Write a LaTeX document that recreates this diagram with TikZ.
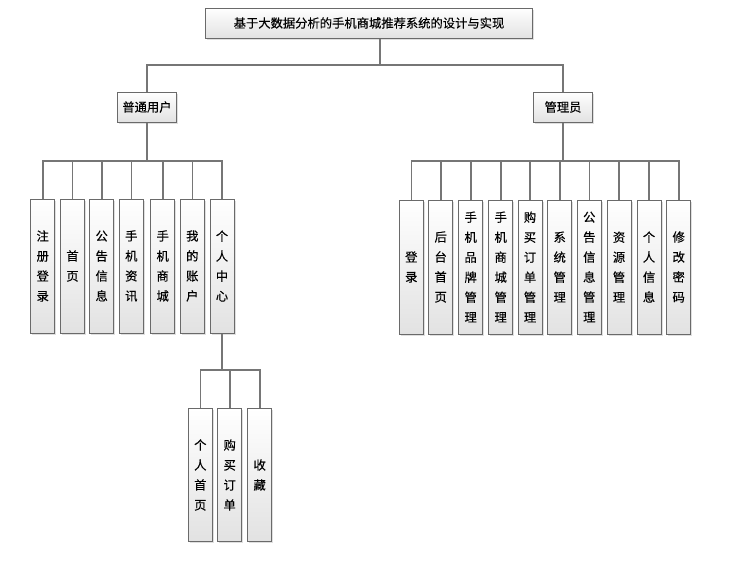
\documentclass[tikz,border=0pt]{standalone}
\usepackage{fontspec}
\newfontfamily\cjk[FakeBold=0.3]{Noto Sans CJK SC}
\usetikzlibrary{shadows}
\definecolor{boxline}{HTML}{6A6A6A}
\definecolor{linkline}{HTML}{767676}
\definecolor{boxbottom}{HTML}{E2E2E2}
\tikzset{
  box/.style={draw=boxline, line width=1pt, top color=white, bottom color=boxbottom,
    drop shadow={shadow xshift=1.5pt, shadow yshift=-1.5pt, opacity=0.25},
    inner sep=0pt, font=\cjk\fontsize{12.3}{20}\selectfont},
  vbox/.style={box, minimum width=24pt, minimum height=134pt, align=center},
  link/.style={draw=linkline, line width=1.6pt}
}
\begin{document}
\begin{tikzpicture}[x=1pt, y=-1pt]
  \useasboundingbox (0,0) rectangle (747,570);
  % bus points of the tree
  \coordinate (rb) at (380,65);
  \coordinate (ub) at (147,161);
  \coordinate (ab) at (563,161);
  \coordinate (pb) at (222,370);

  % title and the two roles
  \node[box, minimum width=327pt, minimum height=30pt] (root) at (369,23) {基于大数据分析的手机商城推荐系统的设计与实现};
  \node[box, minimum width=59pt, minimum height=30pt] (user) at (147,107) {普通用户};
  \node[box, minimum width=59pt, minimum height=30pt] (admin) at (563,107) {管理员};

  % user functions
  \node[vbox] (u1) at (42.7,266) {注\\册\\登\\录};
  \node[vbox] (u2) at (72.5,266) {首\\页};
  \node[vbox] (u3) at (101.7,266) {公\\告\\信\\息};
  \node[vbox] (u4) at (131.3,266) {手\\机\\资\\讯};
  \node[vbox] (u5) at (162.7,266) {手\\机\\商\\城};
  \node[vbox] (u6) at (192.3,266) {我\\的\\账\\户};
  \node[vbox] (u7) at (222,266) {个\\人\\中\\心};

  % personal center
  \node[vbox, minimum height=133pt] (p1) at (200.3,475) {个\\人\\首\\页};
  \node[vbox, minimum height=133pt] (p2) at (229.7,475) {购\\买\\订\\单};
  \node[vbox, minimum height=133pt] (p3) at (259.7,475) {收\\藏};

  % admin functions
  \node[vbox] (a1) at (411.3,267) {登\\录};
  \node[vbox] (a2) at (440.7,267) {后\\台\\首\\页};
  \node[vbox] (a3) at (470.7,267) {手\\机\\品\\牌\\管\\理};
  \node[vbox] (a4) at (500.7,267) {手\\机\\商\\城\\管\\理};
  \node[vbox] (a5) at (530,267) {购\\买\\订\\单\\管\\理};
  \node[vbox] (a6) at (559.7,267) {系\\统\\管\\理};
  \node[vbox] (a7) at (589.3,267) {公\\告\\信\\息\\管\\理};
  \node[vbox] (a8) at (619,267) {资\\源\\管\\理};
  \node[vbox] (a9) at (649,267) {个\\人\\信\\息};
  \node[vbox] (a10) at (678.7,267) {修\\改\\密\\码};

  % connectors
  \draw[link] (root.south -| rb) -- (rb);
  \draw[link] (rb) -| (user.north);
  \draw[link] (rb) -| (admin.north);

  \draw[link] (user.south) -- (ub);
  \foreach \c in {u1,u2,u3,u4,u5,u6,u7}
    \draw[link] (ub) -| (\c.north);

  \draw[link] (admin.south) -- (ab);
  \foreach \c in {a1,a2,a3,a4,a5,a6,a7,a8,a9,a10}
    \draw[link] (ab) -| (\c.north);

  \draw[link] (u7.south) -- (pb);
  \foreach \c in {p1,p2,p3}
    \draw[link] (pb) -| (\c.north);
\end{tikzpicture}
\end{document}
